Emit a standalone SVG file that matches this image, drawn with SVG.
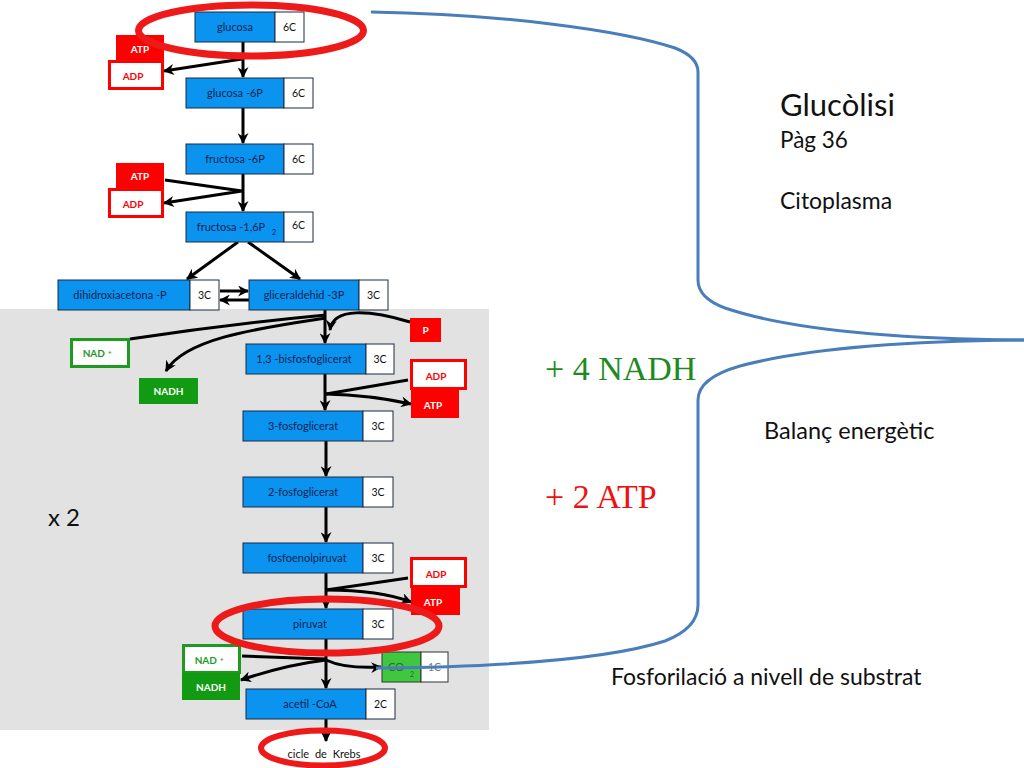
<svg xmlns="http://www.w3.org/2000/svg" width="1024" height="768" viewBox="0 0 1024 768">
<defs>
<style>
.b{fill:#0b93f0;stroke:#1d2b45;stroke-width:1}
.w{fill:#fff;stroke:#1d2b45;stroke-width:1}
.t{font-family:Lato,"Liberation Sans",sans-serif;font-size:11px;fill:#0f2350;text-anchor:middle}
.n{font-family:Lato,"Liberation Sans",sans-serif;font-size:10.5px;fill:#111;text-anchor:middle}
.atp{fill:#ff0000}
.adp{fill:#fff;stroke:#ff0000;stroke-width:3}
.lb{font-family:Lato,"Liberation Sans",sans-serif;font-weight:bold;font-size:10px;text-anchor:middle}
.wt{fill:#fff}
.rt{fill:#ff0000}
.gt{fill:#1e9a1e}
.nad{fill:#fff;stroke:#1e9a1e;stroke-width:3}
.nadh{fill:#139a13}
.c{fill:none;stroke:#000;stroke-width:3;stroke-linejoin:round;marker-end:url(#ah)}
.cl{fill:none;stroke:#000;stroke-width:3}
.ring{fill:none;stroke:#ee1a1a;stroke-width:7}
.big{font-family:Lato,"Liberation Sans",sans-serif;fill:#111}
.ser{font-family:"Liberation Serif","Times New Roman",serif;font-size:34px}
</style>
<marker id="ah" viewBox="0 0 10 10" refX="9" refY="5" markerWidth="11" markerHeight="11" markerUnits="userSpaceOnUse" orient="auto">
<path d="M0,0 L10,5 L0,10 L3,5 z" fill="#000"/>
</marker>
</defs>
<rect width="1024" height="768" fill="#fff"/>
<rect id="mitochondria-zone" x="0" y="309" width="489" height="421" fill="#e2e2e2"/>

<g id="connectors">
<path class="c" d="M243,42 L243,77"/>
<path class="c" d="M165,47 L242,59 L164,71"/>
<path class="c" d="M243,108 L243,143"/>
<path class="c" d="M243,174 L243,211"/>
<path class="c" d="M165,180 L242,191 L164,203"/>
<path class="c" d="M238,242 L187,279"/>
<path class="c" d="M248,242 L300,279"/>
<path class="c" d="M220,291 L248,291"/>
<path class="c" d="M249,300 L220,300"/>
<path class="c" d="M325,310 L325,343"/>
<path class="cl" d="M130,339 Q230,324 326,315"/>
<path class="c" d="M326,318 C260,328 185,338 166,371"/>
<path class="c" d="M410,322 C370,310 333,307 330,330"/>
<path class="c" d="M325,374 L325,410"/>
<path class="cl" d="M408,380 L326,394"/>
<path class="c" d="M326,394 Q370,395 411,404"/>
<path class="c" d="M326,441 L326,476"/>
<path class="c" d="M326,507 L326,542"/>
<path class="c" d="M326,573 L326,608"/>
<path class="cl" d="M408,578 L326,590"/>
<path class="c" d="M326,590 Q380,590 411,602"/>
<path class="c" d="M326,639 L326,688"/>
<path class="cl" d="M242,656 L326,659"/>
<path class="c" d="M326,660 Q285,665 241,680"/>
<path class="c" d="M326,660 Q345,669 381,667"/>
<path class="c" d="M326,719 L326,741"/>
</g>

<g id="glucosa">
<rect class="b" x="195" y="12" width="80" height="30"/>
<rect class="w" x="275" y="12" width="29" height="30"/>
<text class="t" x="235" y="31">glucosa</text>
<text class="n" x="289.5" y="31">6C</text>
</g>
<g id="atp1"><rect class="atp" x="116" y="35" width="48" height="25"/><text class="lb wt" x="140" y="53">ATP</text></g>
<g id="adp1"><rect class="adp" x="109.5" y="61.5" width="53" height="27"/><text class="lb rt" x="133" y="80">ADP</text></g>

<g id="glucosa-6P">
<rect class="b" x="186" y="78" width="98" height="30"/>
<rect class="w" x="284" y="78" width="29" height="30"/>
<text class="t" x="235" y="97">glucosa  -6P</text>
<text class="n" x="298.5" y="97">6C</text>
</g>

<g id="fructosa-6P">
<rect class="b" x="186" y="144" width="98" height="30"/>
<rect class="w" x="284" y="144" width="29" height="30"/>
<text class="t" x="235" y="163">fructosa -6P</text>
<text class="n" x="298.5" y="163">6C</text>
</g>
<g id="atp2"><rect class="atp" x="116" y="163" width="48" height="25"/><text class="lb wt" x="140" y="180">ATP</text></g>
<g id="adp2"><rect class="adp" x="109.5" y="189.5" width="53" height="27"/><text class="lb rt" x="133" y="208">ADP</text></g>

<g id="fructosa-16P2">
<rect class="b" x="186" y="212" width="98" height="30"/>
<rect class="w" x="284" y="212" width="29" height="30"/>
<text class="t" x="231" y="231">fructosa -1,6P</text>
<text class="t" x="274" y="235" style="font-size:7px">2</text>
<text class="n" x="298.5" y="229">6C</text>
</g>

<g id="dihidroxiacetona-P">
<rect class="b" x="58" y="280" width="132" height="30"/>
<rect class="w" x="190" y="280" width="29" height="30"/>
<text class="t" x="120" y="299">dihidroxiacetona  -P</text>
<text class="n" x="204.5" y="299">3C</text>
</g>

<g id="gliceraldehid-3P">
<rect class="b" x="249" y="280" width="110" height="30"/>
<rect class="w" x="359" y="280" width="29" height="30"/>
<text class="t" x="304" y="299">gliceraldehid  -3P</text>
<text class="n" x="373.5" y="299">3C</text>
</g>

<g id="p"><rect class="atp" x="410" y="318" width="31" height="24"/><text class="lb wt" x="425.5" y="334">P</text></g>
<g id="nad1"><rect class="nad" x="71.5" y="339.5" width="57" height="27"/><text class="lb gt" x="97" y="357">NAD<tspan dx="3" dy="-3" style="font-size:6px">+</tspan></text></g>
<g id="nadh1"><rect class="nadh" x="139" y="378" width="59" height="26"/><text class="lb wt" x="168.5" y="395">NADH</text></g>

<g id="bisfosfoglicerat">
<rect class="b" x="246" y="344" width="120" height="30"/>
<rect class="w" x="366" y="344" width="28" height="30"/>
<text class="t" x="304" y="363">1,3 -bisfosfoglicerat</text>
<text class="n" x="380" y="363">3C</text>
</g>
<g id="adp3"><rect class="adp" x="411.5" y="360.5" width="54" height="28"/><text class="lb rt" x="436" y="380">ADP</text></g>
<g id="atp3"><rect class="atp" x="411" y="390" width="48" height="28"/><text class="lb wt" x="433" y="409">ATP</text></g>

<g id="fosfoglicerat-3">
<rect class="b" x="243" y="411" width="120" height="30"/>
<rect class="w" x="363" y="411" width="30" height="30"/>
<text class="t" x="303" y="430">3-fosfoglicerat</text>
<text class="n" x="378" y="430">3C</text>
</g>

<g id="fosfoglicerat-2">
<rect class="b" x="243" y="477" width="120" height="30"/>
<rect class="w" x="363" y="477" width="30" height="30"/>
<text class="t" x="303" y="496">2-fosfoglicerat</text>
<text class="n" x="378" y="496">3C</text>
</g>

<g id="fosfoenolpiruvat">
<rect class="b" x="243" y="543" width="120" height="30"/>
<rect class="w" x="363" y="543" width="30" height="30"/>
<text class="t" x="307" y="562">fosfoenolpiruvat</text>
<text class="n" x="378" y="562">3C</text>
</g>
<g id="adp4"><rect class="adp" x="411.5" y="558.5" width="54" height="28"/><text class="lb rt" x="436" y="578">ADP</text></g>
<g id="atp4"><rect class="atp" x="411" y="587" width="49" height="28"/><text class="lb wt" x="433" y="606">ATP</text></g>

<g id="piruvat">
<rect class="b" x="243" y="609" width="120" height="30"/>
<rect class="w" x="363" y="609" width="30" height="30"/>
<text class="t" x="310" y="628">piruvat</text>
<text class="n" x="378" y="628">3C</text>
</g>

<g id="nad2"><rect class="nad" x="183.5" y="645.5" width="56" height="27"/><text class="lb gt" x="209" y="664">NAD<tspan dx="3" dy="-3" style="font-size:6px">+</tspan></text></g>
<g id="nadh2"><rect class="nadh" x="182" y="673" width="58" height="27"/><text class="lb wt" x="211" y="691">NADH</text></g>

<g id="co2">
<rect x="382" y="652" width="39" height="30" fill="#3fc83f" stroke="#333" stroke-width="1"/>
<rect x="421" y="652" width="27" height="30" fill="#fff" stroke="#333" stroke-width="1"/>
<text class="t" x="396" y="671" style="fill:#2d6b2d">CO</text>
<text class="t" x="412" y="677" style="fill:#2d6b2d;font-size:7px">2</text>
<text class="n" x="434.5" y="671" style="fill:#777">1C</text>
</g>

<g id="acetil-CoA">
<rect class="b" x="246" y="689" width="120" height="30"/>
<rect class="w" x="366" y="689" width="29" height="30"/>
<text class="t" x="310" y="708">acetil -CoA</text>
<text class="n" x="380.5" y="708">2C</text>
</g>

<g id="krebs">
<text class="t" x="324" y="758" style="fill:#111;word-spacing:3px">cicle de Krebs</text>
</g>

<g id="highlights">
<ellipse class="ring" cx="251" cy="30.5" rx="112.5" ry="25.5"/>
<ellipse class="ring" cx="327" cy="626" rx="112" ry="27"/>
<ellipse class="ring" cx="323" cy="748" rx="62" ry="17.5" style="stroke-width:6"/>
</g>

<g id="bracket" fill="none" stroke="#4a7ebb" stroke-width="3">
<path d="M371,12 C500,14 620,30 675,48 Q698,57 698,72 L698,280 Q698,298 725,308 C790,330 900,339 1024,340"/>
<path d="M1024,340 C900,341 800,350 740,366 Q698,378 698,400 L698,605 Q698,628 665,641 C600,662 480,667 376,668"/>
</g>

<g id="labels">
<text class="big" x="780" y="116" style="font-size:31px">Glucòlisi</text>
<text class="big" x="780" y="148" style="font-size:22.5px">Pàg 36</text>
<text class="big" x="780" y="209" style="font-size:23px">Citoplasma</text>
<text class="ser" x="545" y="380" fill="#1f8a1f">+ 4 NADH</text>
<text class="ser" x="545" y="508" fill="#ee1111">+ 2 ATP</text>
<text class="big" x="764" y="439" style="font-size:23.5px">Balanç energètic</text>
<text class="big" x="611" y="685" style="font-size:23px">Fosforilació a nivell de substrat</text>
<text class="big" x="48" y="526" style="font-size:24px">x 2</text>
</g>
</svg>
